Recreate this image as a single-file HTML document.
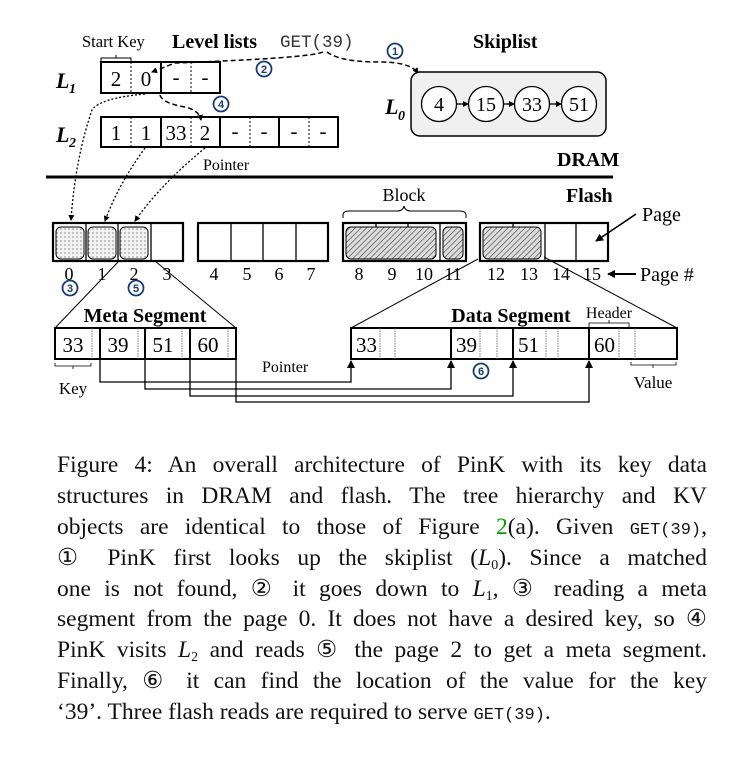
<!DOCTYPE html>
<html><head><meta charset="utf-8"><style>
body{margin:0;background:#fff;width:753px;height:758px;overflow:hidden;position:relative}
svg{position:absolute;left:0;top:0}
.cap{position:absolute;left:57px;top:450px;width:650px;font-family:"Liberation Serif",serif;font-size:23.5px;line-height:30.9px;color:#111}
.cap div{height:30.9px;white-space:nowrap;text-align:justify;text-align-last:justify}
.cap div.last{text-align-last:left}
.m{font-family:"Liberation Mono",monospace;font-size:17px}
sub{font-size:14px;line-height:0;vertical-align:-4px}
</style></head><body>
<svg width="753" height="440" viewBox="0 0 753 440" font-family="Liberation Serif, serif">
<defs>
<pattern id="dots" width="4" height="4" patternUnits="userSpaceOnUse"><rect width="4" height="4" fill="#f2f2f2"/><circle cx="1" cy="1" r="0.6" fill="#555"/></pattern>
<pattern id="hatch" width="4" height="4" patternUnits="userSpaceOnUse" patternTransform="rotate(45)"><rect width="4" height="4" fill="#ddd"/><line x1="0" y1="0" x2="0" y2="4" stroke="#444" stroke-width="1.3"/></pattern>
<marker id="ah" markerWidth="8" markerHeight="8" refX="7" refY="4" orient="auto" markerUnits="userSpaceOnUse"><path d="M0,0 L8,4 L0,8z" fill="#000"/></marker>
<marker id="ahs" markerWidth="6" markerHeight="6" refX="5" refY="3" orient="auto" markerUnits="userSpaceOnUse"><path d="M0,0 L6,3 L0,6z" fill="#000"/></marker>
</defs>
<text x="82" y="47" font-size="16.5">Start Key</text>
<path d="M101,62 v-4 h30 v4 M116,58 v-3" fill="none" stroke="#000"/>
<text x="172" y="48" font-size="20" font-weight="bold">Level lists</text>
<text x="280" y="47" font-size="17.5" font-family="Liberation Mono, monospace" fill="#333">GET(39)</text>
<text x="473" y="48" font-size="20" font-weight="bold">Skiplist</text>
<text x="56" y="88" font-size="22" font-style="italic" font-weight="bold">L</text><text x="69" y="93" font-size="14" font-style="italic" font-weight="bold">1</text>
<rect x="101" y="62" width="119" height="31" fill="none" stroke="#000" stroke-width="2"/>
<line x1="161" y1="62" x2="161" y2="93" stroke="#000" stroke-width="2"/>
<line x1="131" y1="62" x2="131" y2="93" stroke="#000" stroke-dasharray="2,2"/>
<line x1="191" y1="62" x2="191" y2="93" stroke="#000" stroke-dasharray="2,2"/>
<g font-size="21" text-anchor="middle"><text x="116" y="86">2</text><text x="146" y="86">0</text><text x="176" y="84">-</text><text x="205" y="84">-</text></g>
<text x="56" y="142" font-size="22" font-style="italic" font-weight="bold">L</text><text x="69" y="147" font-size="14" font-style="italic" font-weight="bold">2</text>
<rect x="101" y="117" width="237" height="30" fill="none" stroke="#000" stroke-width="2"/>
<g stroke="#000" stroke-width="2"><line x1="161" y1="117" x2="161" y2="147"/><line x1="220" y1="117" x2="220" y2="147"/><line x1="279" y1="117" x2="279" y2="147"/></g>
<g stroke="#000" stroke-dasharray="2,2"><line x1="131" y1="117" x2="131" y2="147"/><line x1="191" y1="117" x2="191" y2="147"/><line x1="250" y1="117" x2="250" y2="147"/><line x1="309" y1="117" x2="309" y2="147"/></g>
<g font-size="21" text-anchor="middle"><text x="116" y="140">1</text><text x="146" y="140">1</text><text x="176" y="140">33</text><text x="205" y="140">2</text><text x="235" y="138">-</text><text x="264" y="138">-</text><text x="294" y="138">-</text><text x="323" y="138">-</text></g>
<text x="203" y="170" font-size="16">Pointer</text>
<path d="M323,52 Q310,58 175,63 L152,72" fill="none" stroke="#000" stroke-width="1.5" stroke-dasharray="5,3" marker-end="url(#ahs)"/>
<path d="M327,52 Q340,62 380,62 Q410,62 418,73" fill="none" stroke="#000" stroke-width="1.5" stroke-dasharray="5,3" marker-end="url(#ahs)"/>
<path d="M160,95 Q162,103 185,107 Q199,110 201,120" fill="none" stroke="#000" stroke-width="1.5" stroke-dasharray="5,3" marker-end="url(#ahs)"/>
<g fill="#fff" stroke="#1a3a7a" stroke-width="1.8"><circle cx="395" cy="51" r="7.5"/><circle cx="264" cy="69" r="7.5"/><circle cx="221" cy="104" r="7.5"/></g>
<g fill="#1a3a7a" font-family="Liberation Sans, sans-serif" font-weight="bold" font-size="11" text-anchor="middle"><text x="395" y="55">1</text><text x="264" y="73">2</text><text x="221" y="108">4</text></g>
<rect x="411" y="72" width="195" height="64" rx="9" fill="#f0f0f0" stroke="#000" stroke-width="1.5"/>
<text x="385" y="114" font-size="22" font-style="italic" font-weight="bold">L</text><text x="398" y="120" font-size="14" font-style="italic" font-weight="bold">0</text>
<g fill="#fff" stroke="#000" stroke-width="1.3"><circle cx="439" cy="104" r="17.5"/><circle cx="486" cy="104" r="17.5"/><circle cx="532" cy="104" r="17.5"/><circle cx="579" cy="104" r="17.5"/></g>
<g font-size="20" text-anchor="middle"><text x="439" y="111">4</text><text x="486" y="111">15</text><text x="532" y="111">33</text><text x="579" y="111">51</text></g>
<g stroke="#000" stroke-width="1.3"><line x1="457" y1="104" x2="468" y2="104" marker-end="url(#ahs)"/><line x1="504" y1="104" x2="514" y2="104" marker-end="url(#ahs)"/><line x1="550" y1="104" x2="561" y2="104" marker-end="url(#ahs)"/></g>
<text x="557" y="166" font-size="20" font-weight="bold">DRAM</text>
<line x1="46" y1="177" x2="613" y2="177" stroke="#000" stroke-width="3"/>
<text x="566" y="202" font-size="20" font-weight="bold">Flash</text>
<g fill="none" stroke="#000" stroke-width="1.3" stroke-dasharray="2,2"><path d="M145,94 Q100,98 92,110 Q75,160 71,220" marker-end="url(#ahs)"/><path d="M145,148 Q118,185 105,221" marker-end="url(#ahs)"/><path d="M205,148 Q160,185 135,221" marker-end="url(#ahs)"/></g>
<rect x="56" y="227" width="28" height="32" rx="5" fill="url(#dots)" stroke="#000"/>
<rect x="88" y="227" width="28" height="32" rx="5" fill="url(#dots)" stroke="#000"/>
<rect x="120" y="227" width="28" height="32" rx="5" fill="url(#dots)" stroke="#000"/>
<rect x="346" y="227" width="90" height="32" rx="5" fill="url(#hatch)" stroke="#000"/>
<rect x="443" y="227" width="20" height="32" rx="5" fill="url(#hatch)" stroke="#000"/>
<rect x="483" y="227" width="58" height="32" rx="5" fill="url(#hatch)" stroke="#000"/>
<g fill="none" stroke="#000" stroke-width="2.2"><rect x="53" y="223" width="130" height="38"/><rect x="198" y="223" width="130" height="38"/><rect x="343" y="223" width="123" height="38"/><rect x="480" y="223" width="128" height="38"/></g>
<g stroke="#000" stroke-width="1.3"><line x1="86" y1="223" x2="86" y2="261"/><line x1="118" y1="223" x2="118" y2="261"/><line x1="151" y1="223" x2="151" y2="261"/><line x1="231" y1="223" x2="231" y2="261"/><line x1="263" y1="223" x2="263" y2="261"/><line x1="296" y1="223" x2="296" y2="261"/><line x1="376" y1="223" x2="376" y2="227"/><line x1="408" y1="223" x2="408" y2="227"/><line x1="440" y1="223" x2="440" y2="261"/><line x1="513" y1="223" x2="513" y2="227"/><line x1="545" y1="223" x2="545" y2="261"/><line x1="576" y1="223" x2="576" y2="261"/></g>
<g font-size="18" text-anchor="middle"><text x="69" y="280">0</text><text x="102" y="280">1</text><text x="134" y="280">2</text><text x="167" y="280">3</text><text x="214" y="280">4</text><text x="247" y="280">5</text><text x="279" y="280">6</text><text x="311" y="280">7</text><text x="359" y="280">8</text><text x="392" y="280">9</text><text x="424" y="280">10</text><text x="453" y="280">11</text><text x="496" y="280">12</text><text x="529" y="280">13</text><text x="561" y="280">14</text><text x="592" y="280">15</text></g>
<line x1="636" y1="274" x2="608" y2="274" stroke="#000" stroke-width="2" marker-end="url(#ah)"/>
<text x="640" y="281" font-size="20">Page #</text>
<text x="642" y="221" font-size="20">Page</text>
<line x1="636" y1="214" x2="596" y2="241" stroke="#000" stroke-width="1.6" marker-end="url(#ah)"/>
<path d="M343,218 v-3 q0,-4 6,-4 h48 q6,0 7,-5 q1,5 7,5 h48 q7,0 7,4 v3" fill="none" stroke="#000"/>
<text x="404" y="201" font-size="18" text-anchor="middle">Block</text>
<g fill="#fff" stroke="#1a3a7a" stroke-width="1.8"><circle cx="70" cy="288" r="7.5"/><circle cx="136" cy="288" r="7.5"/><circle cx="481" cy="371" r="7.5"/></g>
<g fill="#1a3a7a" font-family="Liberation Sans, sans-serif" font-weight="bold" font-size="11" text-anchor="middle"><text x="70" y="292">3</text><text x="136" y="292">5</text><text x="481" y="375">6</text></g>
<g stroke="#000" stroke-width="1"><line x1="119" y1="261" x2="55" y2="328"/><line x1="155" y1="261" x2="236" y2="328"/><line x1="478" y1="259" x2="351" y2="328"/><line x1="544" y1="257" x2="677" y2="328"/></g>
<text x="145" y="322" font-size="20" font-weight="bold" text-anchor="middle">Meta Segment</text>
<text x="511" y="322" font-size="20" font-weight="bold" text-anchor="middle">Data Segment</text>
<rect x="55" y="328" width="181" height="31" fill="#fff" stroke="#000" stroke-width="2"/>
<g stroke="#000" stroke-width="2"><line x1="100" y1="328" x2="100" y2="359"/><line x1="145" y1="328" x2="145" y2="359"/><line x1="190" y1="328" x2="190" y2="359"/></g>
<g stroke="#555" stroke-width="0.8" stroke-dasharray="1.5,1"><line x1="92" y1="328" x2="92" y2="359"/><line x1="138" y1="328" x2="138" y2="359"/><line x1="182" y1="328" x2="182" y2="359"/><line x1="228" y1="328" x2="228" y2="359"/></g>
<g font-size="21" text-anchor="middle"><text x="73" y="352">33</text><text x="118" y="352">39</text><text x="163" y="352">51</text><text x="208" y="352">60</text></g>
<path d="M55,363 v3 h36 v-3 M73,366 v3" fill="none" stroke="#000" stroke-width="0.8"/>
<text x="73" y="394" font-size="17" text-anchor="middle">Key</text>
<rect x="351" y="328" width="326" height="31" fill="#fff" stroke="#000" stroke-width="2"/>
<g stroke="#000" stroke-width="2"><line x1="451" y1="328" x2="451" y2="359"/><line x1="513" y1="328" x2="513" y2="359"/><line x1="589" y1="328" x2="589" y2="359"/></g>
<g stroke="#555" stroke-width="0.8" stroke-dasharray="1.5,1"><line x1="380" y1="328" x2="380" y2="359"/><line x1="395" y1="328" x2="395" y2="359"/><line x1="480" y1="328" x2="480" y2="359"/><line x1="497" y1="328" x2="497" y2="359"/><line x1="546" y1="328" x2="546" y2="359"/><line x1="558" y1="328" x2="558" y2="359"/><line x1="619" y1="328" x2="619" y2="359"/><line x1="635" y1="328" x2="635" y2="359"/></g>
<g font-size="21"><text x="356" y="352">33</text><text x="456" y="352">39</text><text x="518" y="352">51</text><text x="594" y="352">60</text></g>
<text x="609" y="318" font-size="16" text-anchor="middle">Header</text>
<path d="M589,327 v-4 h40 v4 M609,323 v-3" fill="none" stroke="#000" stroke-width="0.8"/>
<path d="M631,362 v3 h45 v-3 M653,365 v3" fill="none" stroke="#000" stroke-width="0.8"/>
<text x="653" y="388" font-size="17" text-anchor="middle">Value</text>
<text x="262" y="372" font-size="16">Pointer</text>
<g fill="none" stroke="#000" stroke-width="1.3"><path d="M100,359 V382 H351 V361" marker-end="url(#ah)"/><path d="M145,359 V389 H451 V361" marker-end="url(#ah)"/><path d="M190,359 V396 H513 V361" marker-end="url(#ah)"/><path d="M236,359 V402 H589 V361" marker-end="url(#ah)"/></g>
</svg>
<div class="cap">
<div>Figure 4: An overall architecture of PinK with its key data</div>
<div>structures in DRAM and flash. The tree hierarchy and KV</div>
<div>objects are identical to those of Figure <span style="color:#00a000">2</span>(a). Given <span class="m">GET(39)</span>,</div>
<div>① PinK first looks up the skiplist (<i>L</i><sub>0</sub>). Since a matched</div>
<div>one is not found, ② it goes down to <i>L</i><sub>1</sub>, ③ reading a meta</div>
<div>segment from the page 0. It does not have a desired key, so ④</div>
<div>PinK visits <i>L</i><sub>2</sub> and reads ⑤ the page 2 to get a meta segment.</div>
<div>Finally, ⑥ it can find the location of the value for the key</div>
<div class="last">‘39’. Three flash reads are required to serve <span class="m">GET(39)</span>.</div>
</div>
</body></html>
